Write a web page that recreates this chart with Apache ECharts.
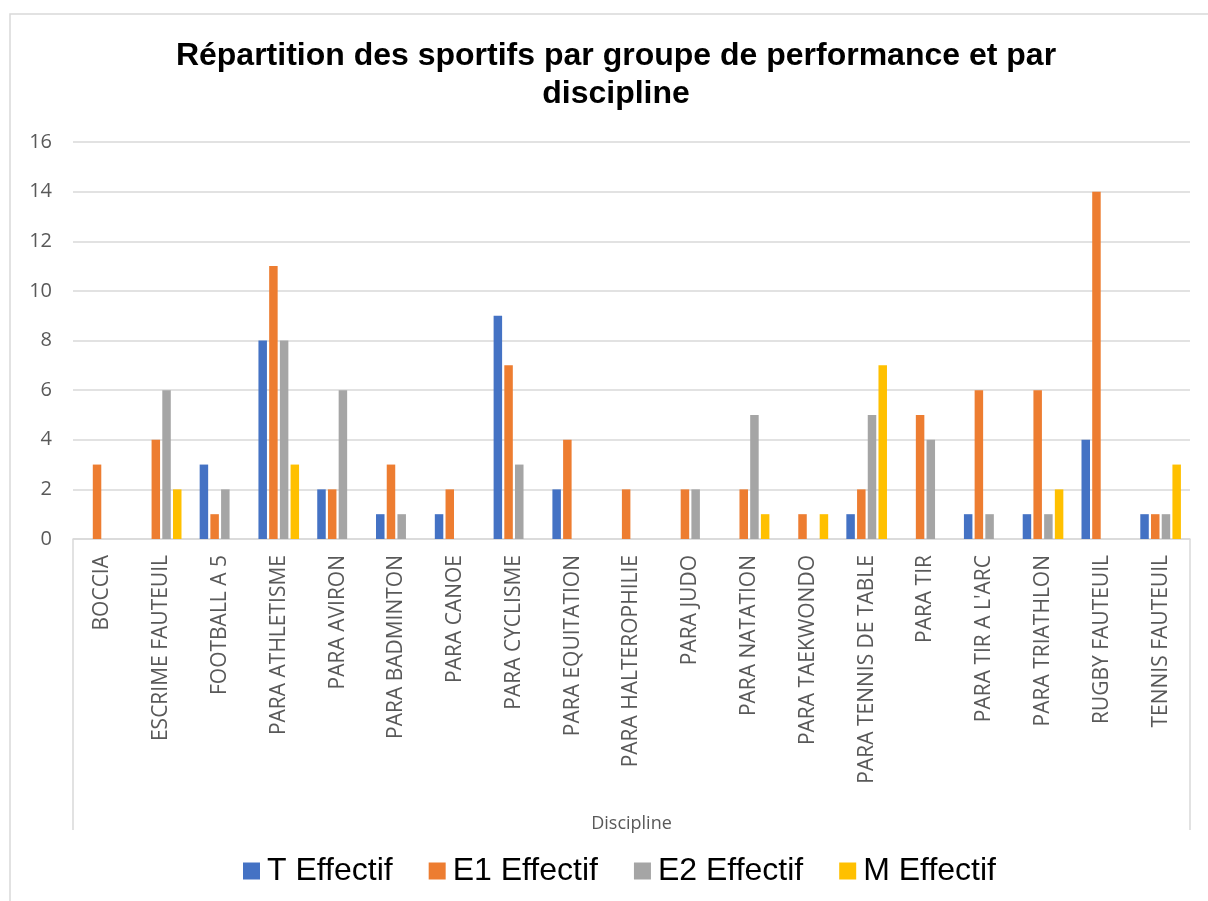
<!DOCTYPE html>
<html>
<head>
<meta charset="utf-8">
<script src="https://cdn.jsdelivr.net/npm/echarts@6/dist/echarts.min.js"></script>
<style>
html,body{margin:0;padding:0;background:#fff;}
#chart{width:1208px;height:901px;}
</style>
</head>
<body>
<div id="chart"></div>
<script>
const categories = ["BOCCIA","ESCRIME FAUTEUIL","FOOTBALL A 5","PARA ATHLETISME","PARA AVIRON","PARA BADMINTON","PARA CANOE","PARA CYCLISME","PARA EQUITATION","PARA HALTEROPHILIE","PARA JUDO","PARA NATATION","PARA TAEKWONDO","PARA TENNIS DE TABLE","PARA TIR","PARA TIR A L'ARC","PARA TRIATHLON","RUGBY FAUTEUIL","TENNIS FAUTEUIL"];
const seriesNames = ["T Effectif","E1 Effectif","E2 Effectif","M Effectif"];
const tEffectif  = [null,null,3,8,2,1,1,9,2,null,null,null,null,1,null,1,1,4,1];
const e1Effectif = [3,4,1,11,2,3,2,7,4,2,2,2,1,2,5,6,6,14,1];
const e2Effectif = [null,6,2,8,6,1,null,3,null,null,2,5,null,5,4,1,1,null,1];
const mEffectif  = [null,2,null,3,null,null,null,null,null,null,null,1,1,7,null,null,2,null,3];
const yTicks = {min:0, max:16, interval:2};
const colors = ["#4472C4","#ED7D31","#A5A5A5","#FFC000"];
const values = [tEffectif, e1Effectif, e2Effectif, mEffectif];

const chart = echarts.init(document.getElementById('chart'));
const gridLeft = 73, gridRight = 18, gridTop = 142, gridBottom = 362;
const W = 1208, H = 901;
const axisY = H - gridBottom;

chart.setOption({
  animation: false,
  color: colors,
  title: {
    text: "Répartition des sportifs par groupe de performance et par\ndiscipline",
    left: 611, top: 32, textAlign: 'center',
    textStyle: {fontFamily: 'Liberation Sans, Arial', fontWeight: 'bold', fontSize: 32, lineHeight: 38, color: '#000'}
  },
  legend: {
    data: seriesNames,
    left: 238, top: 850,
    itemWidth: 17, itemHeight: 17, itemGap: 36,
    icon: 'rect',
    textStyle: {fontFamily: 'Liberation Sans, Arial', fontSize: 32, color: '#000', padding: [0,0,0,2]}
  },
  grid: {left: gridLeft, right: gridRight, top: gridTop, bottom: gridBottom, containLabel: false},
  xAxis: {
    type: 'category', data: categories,
    name: 'Discipline', nameLocation: 'middle', nameGap: 276,
    nameTextStyle: {fontFamily: 'Open Sans', fontSize: 18, color: '#595959'},
    axisTick: {show: false},
    axisLine: {lineStyle: {color: '#d9d9d9', width: 1.5}},
    axisLabel: {rotate: 90, interval: 0, margin: 16, fontFamily: 'Open Sans', fontSize: 21, color: '#595959'}
  },
  yAxis: {
    type: 'value', min: yTicks.min, max: yTicks.max, interval: yTicks.interval,
    axisLine: {show: false}, axisTick: {show: false},
    axisLabel: {margin: 21, fontFamily: 'Open Sans', fontSize: 20, color: '#595959'},
    splitLine: {lineStyle: {color: '#d9d9d9', width: 1.5}}
  },
  graphic: [
    {type: 'rect', shape: {x: 10, y: 14, width: 1300, height: 1000}, style: {fill: 'none', stroke: '#d9d9d9', lineWidth: 1.5}, silent: true, z: -10},
    {type: 'line', shape: {x1: gridLeft, y1: axisY, x2: gridLeft, y2: 830}, style: {stroke: '#d9d9d9', lineWidth: 1.5}, silent: true},
    {type: 'line', shape: {x1: W - gridRight, y1: axisY, x2: W - gridRight, y2: 830}, style: {stroke: '#d9d9d9', lineWidth: 1.5}, silent: true}
  ],
  series: seriesNames.map((n, i) => ({
    name: n, type: 'bar', data: values[i],
    barWidth: 8.5, barGap: '26%',
    itemStyle: {color: colors[i]}
  }))
});
</script>
</body>
</html>
